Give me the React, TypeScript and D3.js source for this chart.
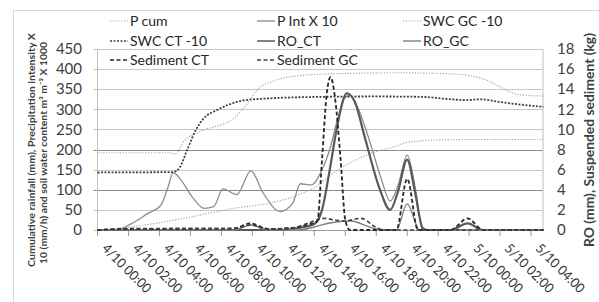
import * as d3 from 'd3';

// time axis, hours from 4/10 00:00
const tickHours = [0, 2, 4, 6, 8, 10, 12, 14, 16, 18, 20, 22, 24, 26, 28];
const tickLabels = [
  '4/10 00:00', '4/10 02:00', '4/10 04:00', '4/10 06:00', '4/10 08:00',
  '4/10 10:00', '4/10 12:00', '4/10 14:00', '4/10 16:00', '4/10 18:00',
  '4/10 20:00', '4/10 22:00', '5/10 00:00', '5/10 02:00', '5/10 04:00',
];
const leftTicks = [0, 50, 100, 150, 200, 250, 300, 350, 400, 450];
const rightTicks = [0, 2, 4, 6, 8, 10, 12, 14, 16, 18];

// left axis series
const pCumHours = [0, 1, 2, 3, 4, 5, 6, 7, 8, 9, 10, 11, 12, 13, 14, 15, 16, 17, 18, 19, 20, 21, 22, 24, 26, 28.8];
const pCumValues = [0, 1, 6, 12, 18, 25, 32, 40, 48, 55, 60, 66, 75, 88, 105, 135, 160, 180, 195, 205, 218, 222, 224, 225, 225, 225];

const pIntHours = [0, 1, 1.5, 2.3, 3.2, 4.1, 4.5, 4.9, 5.4, 6.1, 6.9, 7.5, 8.1, 9.0, 9.9, 10.7, 11.8, 12.6, 13.1, 13.8, 14.5, 15.0, 15.5, 16.0, 16.3, 16.8, 17.5, 18.3, 18.9, 19.4, 20.0, 20.5, 21.0, 28.8];
const pIntValues = [0, 0, 3, 18, 40, 62, 100, 142, 124, 83, 54, 58, 102, 88, 147, 92, 46, 66, 115, 112, 150, 200, 275, 330, 335, 305, 230, 130, 72, 110, 186, 110, 0, 0];

const swcGcHours = [0, 4.8, 5.0, 5.6, 6.6, 8.8, 9.7, 10.3, 11.4, 13.1, 15, 17, 19, 22.8, 24, 25.1, 25.8, 26.4, 27.1, 28.8];
const swcGcValues = [192, 192, 188, 222, 244, 278, 316, 348, 371, 384, 388, 390, 391, 388, 384, 373, 360, 348, 337, 333];

const swcCtHours = [0, 4.9, 5.3, 5.8, 6.3, 6.8, 7.7, 8.5, 9.4, 11, 13, 18, 21, 22.5, 23.9, 24.7, 26, 27.5, 28.8];
const swcCtValues = [143, 144, 155, 200, 245, 275, 298, 312, 322, 327, 330, 332, 331, 326, 323, 325, 318, 311, 306];

// right axis series
const roCtHours = [0, 12, 13, 14.0, 14.5, 15.0, 15.5, 16.1, 16.6, 17.3, 18.2, 18.9, 19.4, 20.0, 20.5, 21.0, 21.3, 22.8, 23.9, 24.9, 28.8];
const roCtValues = [0, 0, 0.2, 0.6, 2, 6, 10.5, 13.6, 12.8, 9, 4.2, 2.0, 3.8, 7.0, 3.8, 0.2, 0, 0, 0.65, 0, 0];

const roGcHours = [0, 8.8, 9.9, 11, 13, 14, 15, 15.7, 16.3, 17.8, 18.5, 19.3, 20.0, 20.8, 28.8];
const roGcValues = [0, 0, 0.5, 0, 0, 0.3, 0.7, 0.85, 0.92, 0.17, 0, 0, 2.6, 0, 0];

const sedCtHours = [0, 2, 8.8, 9.9, 11, 12.5, 13.5, 14.2, 14.5, 14.8, 15.05, 15.35, 15.7, 16.0, 16.3, 19.3, 20.0, 20.7, 22.8, 23.9, 24.9, 28.8];
const sedCtValues = [0, 0.1, 0.15, 0.66, 0.1, 0.2, 0.5, 0.9, 7, 13.5, 15.2, 13, 7, 1, 0, 0, 5.1, 0, 0, 1.15, 0, 0];

const sedGcHours = [0, 2, 8.8, 9.9, 11, 12.5, 13.7, 14.6, 15.5, 16.0, 17.0, 18.1, 18.5, 28.8];
const sedGcValues = [0, 0.15, 0.15, 0.5, 0.1, 0.17, 0.73, 1.16, 0.95, 0.9, 1.16, 0.17, 0, 0];

const series = [
  { name: 'P cum', hours: pCumHours, values: pCumValues, axis: 'left', color: '#a6a6a6', width: 1.2, dash: '1.2,1.6' },
  { name: 'P Int X 10', hours: pIntHours, values: pIntValues, axis: 'left', color: '#8c8c8c', width: 1.3, dash: '' },
  { name: 'SWC GC -10', hours: swcGcHours, values: swcGcValues, axis: 'left', color: '#a6a6a6', width: 1.2, dash: '1.2,1.6' },
  { name: 'SWC CT -10', hours: swcCtHours, values: swcCtValues, axis: 'left', color: '#404040', width: 1.8, dash: '2,1.5' },
  { name: 'RO_CT', hours: roCtHours, values: roCtValues, axis: 'right', color: '#595959', width: 2.2, dash: '' },
  { name: 'RO_GC', hours: roGcHours, values: roGcValues, axis: 'right', color: '#808080', width: 1.4, dash: '' },
  { name: 'Sediment CT', hours: sedCtHours, values: sedCtValues, axis: 'right', color: '#262626', width: 1.8, dash: '4,2.5' },
  { name: 'Sediment GC', hours: sedGcHours, values: sedGcValues, axis: 'right', color: '#404040', width: 1.6, dash: '4,2.5' },
];

const legendOrder = [
  'P cum', 'P Int X 10', 'SWC GC -10',
  'SWC CT -10', 'RO_CT', 'RO_GC',
  'Sediment CT', 'Sediment GC',
];

const FONT = "Lato, 'Open Sans', sans-serif";

export default function App() {
  const width = 599;
  const height = 302;
  const plot = { left: 97.5, right: 543, top: 49, bottom: 230 };

  const x = d3.scaleLinear().domain([0, 28.77]).range([plot.left, plot.right]);
  const yLeft = d3.scaleLinear().domain([0, 450]).range([plot.bottom, plot.top]);
  const yRight = d3.scaleLinear().domain([0, 18]).range([plot.bottom, plot.top]);

  const lineFor = (s: typeof series[number]) => {
    const y = s.axis === 'left' ? yLeft : yRight;
    const pts = s.hours.map((h, i) => [h, s.values[i]] as [number, number]);
    return d3.line<[number, number]>()
      .x(d => x(d[0]))
      .y(d => y(d[1]))
      .curve(d3.curveMonotoneX)(pts) || '';
  };

  const legendCols = [110, 257, 403];
  const legendRows = [21, 41, 60];

  return (
    <svg width={width} height={height} style={{ position: 'absolute', left: 0, top: 0, background: '#fff' }}>
      <rect x={13.5} y={10.5} width={600} height={300} fill="#fff" stroke="#d9d9d9" />

      {leftTicks.map(t => (
        <line key={t} x1={plot.left - 4} x2={plot.right} y1={Math.round(yLeft(t)) + 0.5} y2={Math.round(yLeft(t)) + 0.5}
          stroke={t === 100 || t === 200 ? '#8a8a8a' : '#c6c6c6'} strokeWidth={1} />
      ))}

      <line x1={plot.left} x2={plot.left} y1={plot.top} y2={plot.bottom} stroke="#bfbfbf" />
      <line x1={plot.right} x2={plot.right} y1={plot.top} y2={plot.bottom} stroke="#bfbfbf" />
      <line x1={plot.left} x2={plot.right} y1={plot.bottom + 0.5} y2={plot.bottom + 0.5} stroke="#9a9a9a" />
      {tickHours.map(h => (
        <line key={h} x1={x(h)} x2={x(h)} y1={plot.bottom} y2={plot.bottom + 6} stroke="#9a9a9a" />
      ))}

      {series.map(s => (
        <path key={s.name} d={lineFor(s)} fill="none" stroke={s.color} strokeWidth={s.width}
          strokeDasharray={s.dash || undefined} />
      ))}

      {leftTicks.map(t => (
        <text key={t} x={82} y={yLeft(t)} dy="0.35em" textAnchor="end" fontFamily={FONT} fontSize={15} fill="#404040">{t}</text>
      ))}
      {rightTicks.map(t => (
        <text key={t} x={557} y={yRight(t)} dy="0.35em" textAnchor="start" fontFamily={FONT} fontSize={15} fill="#404040">{t}</text>
      ))}
      {tickHours.map((h, i) => (
        <text key={h} transform={`translate(${x(h) + 11},${plot.bottom + 12}) rotate(45)`} dominantBaseline="hanging"
          fontFamily={FONT} fontSize={13.5} fill="#333" textLength={63} lengthAdjust="spacingAndGlyphs">{tickLabels[i]}</text>
      ))}

      <g transform="translate(31.5,150) rotate(-90)">
        <text textAnchor="middle" dy="0.35em" fontFamily={FONT} fontSize={10} fontWeight="bold" fill="#404040"
          textLength={234} lengthAdjust="spacingAndGlyphs">Cumulative rainfall (mm), Precipitation intensity X</text>
      </g>
      <g transform="translate(43,153) rotate(-90)">
        <text textAnchor="middle" dy="0.35em" fontFamily={FONT} fontSize={10} fontWeight="bold" fill="#404040"
          textLength={222} lengthAdjust="spacingAndGlyphs">10 (mm/h) and soil water content m³ m⁻³ X 1000</text>
      </g>
      <g transform="translate(590,140) rotate(-90)">
        <text textAnchor="middle" dy="0.35em" fontFamily={FONT} fontSize={12.5} fontWeight="bold" fill="#404040"
          textLength={214} lengthAdjust="spacingAndGlyphs">RO (mm), Suspended sediment (kg)</text>
      </g>

      {legendOrder.map((name, i) => {
        const s = series.find(d => d.name === name)!;
        const lx = legendCols[i % 3];
        const ly = legendRows[Math.floor(i / 3)];
        return (
          <g key={name} transform={`translate(${lx},${ly})`}>
            <line x1={0} x2={18} y1={0} y2={0} stroke={s.color} strokeWidth={Math.min(s.width, 1.5)}
              strokeDasharray={s.dash || undefined} />
            <text x={20} y={0} dy="0.35em" fontFamily={FONT} fontSize={14} fill="#262626">{name}</text>
          </g>
        );
      })}
    </svg>
  );
}
